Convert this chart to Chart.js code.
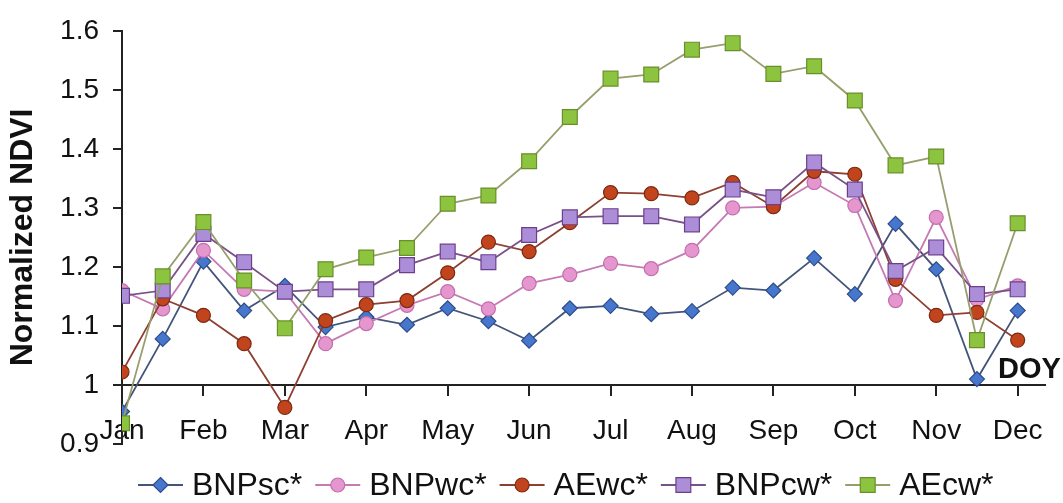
<!DOCTYPE html>
<html><head><meta charset="utf-8">
<script src="https://cdn.jsdelivr.net/npm/chart.js@4.4.0/dist/chart.umd.min.js"></script>
<style>html,body{margin:0;padding:0;background:#fff;overflow:hidden}</style>
</head><body>
<canvas id="c" width="1063" height="503"></canvas>
<script>
// ---- data (semi-monthly samples, Jan .. Dec) ----
const months = ['Jan','Feb','Mar','Apr','May','Jun','Jul','Aug','Sep','Oct','Nov','Dec'];
const yTickLabels = ['0.9','1','1.1','1.2','1.3','1.4','1.5','1.6'];
const seriesNames = ['BNPsc*','BNPwc*','AEwc*','BNPcw*','AEcw*'];
const BNPsc = [0.955,1.078,1.209,1.126,1.168,1.098,1.115,1.102,1.130,1.108,1.075,1.130,1.134,1.120,1.125,1.165,1.160,1.215,1.154,1.273,1.196,1.010,1.126];
const BNPwc = [1.160,1.129,1.228,1.162,1.158,1.070,1.104,1.135,1.158,1.129,1.172,1.187,1.206,1.197,1.228,1.300,1.302,1.343,1.304,1.143,1.284,1.145,1.168];
const AEwc  = [1.022,1.146,1.118,1.070,0.962,1.109,1.136,1.143,1.190,1.242,1.226,1.275,1.326,1.324,1.317,1.343,1.302,1.362,1.357,1.179,1.118,1.123,1.076];
const BNPcw = [1.151,1.160,1.256,1.208,1.158,1.162,1.162,1.203,1.226,1.208,1.254,1.284,1.286,1.286,1.272,1.331,1.318,1.377,1.331,1.193,1.233,1.154,1.162];
const AEcw  = [0.935,1.184,1.276,1.177,1.096,1.196,1.216,1.232,1.307,1.321,1.379,1.454,1.519,1.526,1.568,1.579,1.527,1.540,1.482,1.372,1.387,1.076,1.274];
const allSeries = [BNPsc, BNPwc, AEwc, BNPcw, AEcw];

// ---- styles ----
const FONT = '"Liberation Sans", Arial, sans-serif';
const styles = [
  {shape:'rectRot', r:7.5, fill:'#4677CC', stroke:'#2D4C8C', line:'#44557A'},
  {shape:'circle',  r:7,   fill:'#E596CE', stroke:'#C36EAD', line:'#C57AB3'},
  {shape:'circle',  r:7,   fill:'#C2441D', stroke:'#7C2A14', line:'#8E3F30'},
  {shape:'rect',    r:10.5, fill:'#AC8ED8', stroke:'#6C3F8C', line:'#7A5088'},
  {shape:'rect',    r:10.5, fill:'#8CC43F', stroke:'#6A8F2A', line:'#979E6C'}
];

const datasets = allSeries.map((arr, k) => ({
  label: seriesNames[k],
  data: arr.map((v, i) => ({x: i, y: v})),
  borderColor: styles[k].line,
  borderWidth: 1.8,
  pointStyle: styles[k].shape,
  pointRadius: styles[k].r,
  pointBackgroundColor: styles[k].fill,
  pointBorderColor: styles[k].stroke,
  pointBorderWidth: 1.2,
  tension: 0,
  fill: false,
  order: allSeries.length - k
}));

function drawMarker(ctx, shape, x, y, r, fill, stroke) {
  ctx.save();
  ctx.fillStyle = fill; ctx.strokeStyle = stroke; ctx.lineWidth = 1.2;
  ctx.beginPath();
  if (shape === 'circle') {
    ctx.arc(x, y, r, 0, Math.PI * 2);
  } else if (shape === 'rect') {
    const s = r * Math.SQRT1_2;
    ctx.rect(x - s, y - s, 2 * s, 2 * s);
  } else {
    ctx.moveTo(x, y - r); ctx.lineTo(x + r, y); ctx.lineTo(x, y + r); ctx.lineTo(x - r, y); ctx.closePath();
  }
  ctx.fill(); ctx.stroke();
  ctx.restore();
}

const extras = {
  id: 'extras',
  afterDraw(chart) {
    const ctx = chart.ctx;
    // DOY label
    ctx.save();
    ctx.fillStyle = '#111';
    ctx.font = 'bold 29px ' + FONT;
    ctx.textAlign = 'left';
    ctx.textBaseline = 'alphabetic';
    ctx.fillText('DOY', 998, 378);
    // legend
    ctx.font = '32px ' + FONT;
    ctx.textBaseline = 'middle';
    let x = 138; const y = 485;
    seriesNames.forEach((name, k) => {
      const st = styles[k];
      ctx.strokeStyle = st.line; ctx.lineWidth = 1.8;
      ctx.beginPath(); ctx.moveTo(x, y); ctx.lineTo(x + 45, y); ctx.stroke();
      drawMarker(ctx, st.shape, x + 22.5, y, st.r, st.fill, st.stroke);
      x += 54;
      ctx.fillStyle = '#111';
      ctx.fillText(name, x, y + 1);
      x += ctx.measureText(name).width + 13;
    });
    ctx.restore();
  }
};

new Chart(document.getElementById('c'), {
  type: 'line',
  data: { datasets },
  plugins: [extras],
  options: {
    responsive: false,
    animation: false,
    devicePixelRatio: 1,
    layout: { padding: { left: 0, top: 24, right: 15, bottom: 59 } },
    plugins: { legend: { display: false }, tooltip: { enabled: false } },
    scales: {
      x: {
        type: 'linear',
        position: { y: 1 },
        min: 0,
        max: 22.67,
        afterBuildTicks: s => { s.ticks = months.map((m, i) => ({ value: i * 2 })); },
        ticks: {
          autoSkip: false, maxRotation: 0, padding: 20, color: '#111',
          font: { family: FONT, size: 28 },
          callback: v => months[Math.round(v / 2)]
        },
        grid: { drawOnChartArea: false, drawTicks: true, tickLength: 10, color: '#222', lineWidth: 2 },
        border: { display: true, color: '#222', width: 2 }
      },
      y: {
        position: 'left',
        min: 0.9,
        max: 1.6,
        afterBuildTicks: s => { s.ticks = yTickLabels.map(t => ({ value: parseFloat(t) })); },
        afterFit: s => { s.width = 122; },
        ticks: {
          padding: 14, color: '#111',
          font: { family: FONT, size: 28 },
          callback: v => { const t = yTickLabels.find(t => Math.abs(parseFloat(t) - v) < 1e-6); return t; }
        },
        grid: { drawOnChartArea: false, drawTicks: true, tickLength: 9, color: '#222', lineWidth: 2 },
        border: { display: true, color: '#222', width: 2 },
        title: {
          display: true, text: 'Normalized NDVI', color: '#111',
          font: { family: FONT, size: 32, weight: 'bold' },
          padding: { top: 4, bottom: 0 }
        }
      }
    }
  }
});
</script>
</body></html>
